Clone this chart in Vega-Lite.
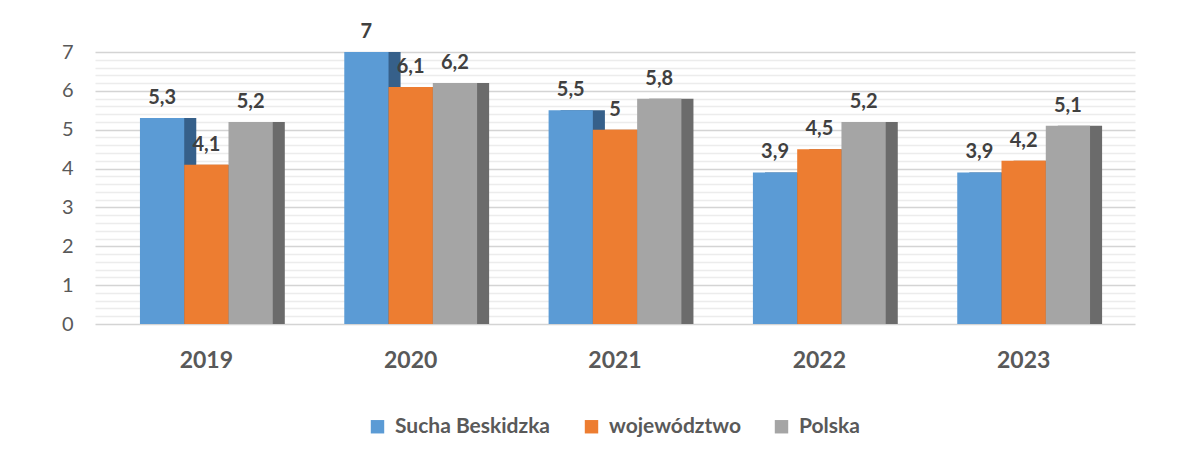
{
  "$schema": "https://vega.github.io/schema/vega-lite/v6.json",
  "width": 1040,
  "height": 272,
  "autosize": {"type": "none"},
  "padding": {"left": 95, "top": 52, "right": 54, "bottom": 135},
  "background": "white",
  "config": {
    "locale": {"number": {"decimal": ",", "thousands": " ", "grouping": [3], "currency": ["", " zł"]}},
    "view": {"stroke": null},
    "font": "Lato"
  },
  "data": {
    "values": [
      {"rok": "2019", "seria": "Sucha Beskidzka", "wartosc": 5.3},
      {"rok": "2019", "seria": "województwo", "wartosc": 4.1},
      {"rok": "2019", "seria": "Polska", "wartosc": 5.2},
      {"rok": "2020", "seria": "Sucha Beskidzka", "wartosc": 7},
      {"rok": "2020", "seria": "województwo", "wartosc": 6.1},
      {"rok": "2020", "seria": "Polska", "wartosc": 6.2},
      {"rok": "2021", "seria": "Sucha Beskidzka", "wartosc": 5.5},
      {"rok": "2021", "seria": "województwo", "wartosc": 5},
      {"rok": "2021", "seria": "Polska", "wartosc": 5.8},
      {"rok": "2022", "seria": "Sucha Beskidzka", "wartosc": 3.9},
      {"rok": "2022", "seria": "województwo", "wartosc": 4.5},
      {"rok": "2022", "seria": "Polska", "wartosc": 5.2},
      {"rok": "2023", "seria": "Sucha Beskidzka", "wartosc": 3.9},
      {"rok": "2023", "seria": "województwo", "wartosc": 4.2},
      {"rok": "2023", "seria": "Polska", "wartosc": 5.1}
    ]
  },
  "layer": [
    {
      "mark": {"type": "bar"},
      "encoding": {
        "x": {
          "field": "rok", "type": "nominal",
          "scale": {"paddingInner": 0.35, "paddingOuter": 0.22, "align": 0.634},
          "axis": null
        },
        "xOffset": {"field": "seria", "type": "nominal", "sort": ["Sucha Beskidzka", "województwo", "Polska"]},
        "y": {"field": "wartosc", "type": "quantitative", "scale": {"domain": [0, 7], "nice": false}},
        "color": {
          "field": "seria", "type": "nominal",
          "scale": {"domain": ["Sucha Beskidzka", "województwo", "Polska"], "range": ["#36608A", "#A9561F", "#6B6B6B"]},
          "legend": null
        }
      }
    },
    {
      "layer": [
        {
          "mark": {"type": "bar"},
          "encoding": {
            "color": {
              "field": "seria", "type": "nominal",
              "scale": {"domain": ["Sucha Beskidzka", "województwo", "Polska"], "range": ["#5B9BD5", "#ED7D31", "#A5A5A5"]},
              "legend": {
                "title": null, "orient": "none", "direction": "horizontal",
                "legendX": 272, "legendY": 364,
                "symbolType": "square", "symbolSize": 180, "symbolStrokeWidth": 0,
                "labelFontSize": 21, "labelFontWeight": "bold", "labelColor": "#595959",
                "columnPadding": 30, "labelFont": "Lato", "labelOffset": 7
              }
            }
          }
        },
        {
          "mark": {"type": "text", "baseline": "bottom", "dy": -10, "fontSize": 20, "fontWeight": "bold", "color": "#404040"},
          "encoding": {
            "text": {"field": "wartosc", "type": "quantitative", "format": "~g"}
          }
        }
      ],
      "encoding": {
        "x": {
          "field": "rok", "type": "nominal",
          "scale": {"paddingInner": 0.35, "paddingOuter": 0.22},
          "axis": {
            "title": null, "labelAngle": 0, "domain": false, "ticks": false,
            "labelFontSize": 23, "labelFontWeight": "bold", "labelColor": "#595959",
            "labelPadding": 25
          }
        },
        "xOffset": {"field": "seria", "type": "nominal", "sort": ["Sucha Beskidzka", "województwo", "Polska"]},
        "y": {
          "field": "wartosc", "type": "quantitative",
          "scale": {"domain": [0, 7], "nice": false},
          "axis": {
            "title": null, "domain": false, "ticks": false, "labelOverlap": false, "tickCount": 40,
            "format": "~g",
            "values": [0, 0.2, 0.4, 0.6, 0.8, 1, 1.2, 1.4, 1.6, 1.8, 2, 2.2, 2.4, 2.6, 2.8, 3, 3.2, 3.4, 3.6, 3.8, 4, 4.2, 4.4, 4.6, 4.8, 5, 5.2, 5.4, 5.6, 5.8, 6, 6.2, 6.4, 6.6, 6.8, 7],
            "labelExpr": "datum.value % 1 === 0 ? datum.label : ''",
            "labelFontSize": 20, "labelColor": "#595959", "labelPadding": 22,
            "labelFont": "Lato",
            "gridColor": {"condition": {"test": "datum.value % 1 === 0", "value": "#d4d4d4"}, "value": "#ececec"},
            "gridWidth": 1.5
          }
        }
      }
    }
  ],
  "resolve": {"scale": {"color": "independent", "x": "independent"}, "axis": {"x": "independent"}}
}
